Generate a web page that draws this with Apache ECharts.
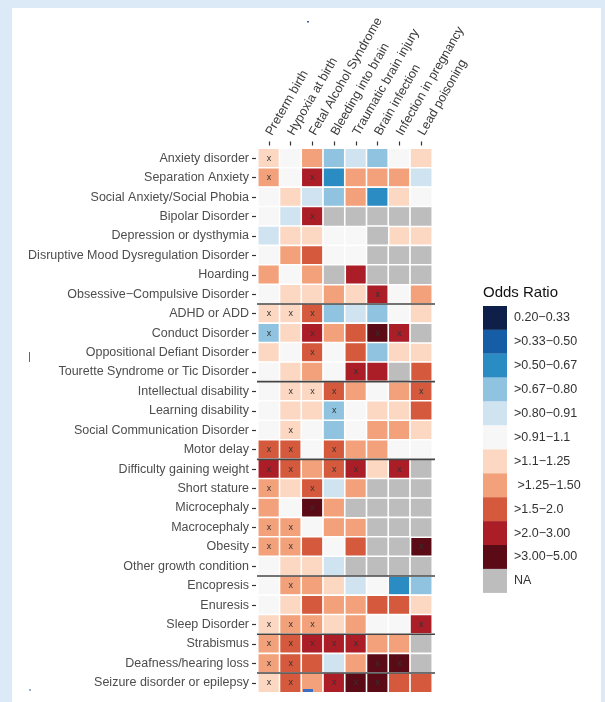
<!DOCTYPE html>
<html>
<head>
<meta charset="utf-8">
<script src="https://cdn.jsdelivr.net/npm/echarts@6/dist/echarts.min.js"></script>
<style>
html,body{margin:0;padding:0;background:#dce9f6;width:605px;height:702px;overflow:hidden;}
#panel{position:absolute;left:12px;top:8px;width:589px;height:694px;background:#fff;}
#chart{position:absolute;left:0;top:0;width:605px;height:702px;}
</style>
</head>
<body>
<div id="panel"></div>
<div id="chart"></div>
<script>
// Exposures (columns)
const exposures = ['Preterm birth','Hypoxia at birth','Fetal Alcohol Syndrome','Bleeding into brain','Traumatic brain injury','Brain infection','Infection in pregnancy','Lead poisoning'];
// Conditions (rows, top to bottom)
const conditions = ['Anxiety disorder','Separation Anxiety','Social Anxiety/Social Phobia','Bipolar Disorder','Depression or dysthymia','Disruptive Mood Dysregulation Disorder','Hoarding','Obsessive\u2212Compulsive Disorder','ADHD or ADD','Conduct Disorder','Oppositional Defiant Disorder','Tourette Syndrome or Tic Disorder','Intellectual disability','Learning disability','Social Communication Disorder','Motor delay','Difficulty gaining weight','Short stature','Microcephaly','Macrocephaly','Obesity','Other growth condition','Encopresis','Enuresis','Sleep Disorder','Strabismus','Deafness/hearing loss','Seizure disorder or epilepsy'];
// Estimated odds ratios (null = NA), one row per condition
const oddsRatios = [
  [1.2, 1.0, 1.4, 0.75, 0.85, 0.75, 1.0, 1.2],
  [1.4, 1.0, 2.5, 0.6, 1.4, 1.4, 1.4, 0.85],
  [1.0, 1.2, 0.85, 0.75, 1.4, 0.6, 1.2, 1.0],
  [1.0, 0.85, 2.5, null, null, null, null, null],
  [0.85, 1.2, 1.2, 1.0, 1.0, null, 1.2, 1.2],
  [1.0, 1.4, 1.8, 1.0, 1.0, null, null, null],
  [1.4, 1.0, 1.4, null, 2.5, null, null, null],
  [1.0, 1.2, 1.2, 1.4, 1.2, 2.5, 1.0, 1.4],
  [1.2, 1.2, 1.8, 0.75, 0.85, 0.75, 1.0, 1.2],
  [0.75, 1.2, 2.5, 1.4, 1.8, 4.0, 2.5, null],
  [1.2, 1.0, 1.8, 1.0, 1.8, 0.75, 1.2, 1.2],
  [1.0, 1.2, 1.4, 1.0, 2.5, 2.5, null, 1.8],
  [1.0, 1.2, 1.2, 1.8, 1.4, 1.0, 1.4, 1.8],
  [1.0, 1.2, 1.2, 0.75, 1.0, 1.2, 1.2, 1.8],
  [1.0, 1.2, 1.0, 0.75, 1.0, 1.4, 1.4, 1.2],
  [1.8, 1.8, 1.0, 1.8, 1.4, 1.4, 1.0, 1.0],
  [2.5, 1.8, 1.4, 1.8, 2.5, 1.2, 2.5, null],
  [1.4, 1.2, 1.8, 0.85, 1.4, null, null, null],
  [1.4, 1.0, 4.0, 1.4, null, null, null, null],
  [1.4, 1.4, 1.0, 1.4, 1.4, null, null, null],
  [1.4, 1.4, 1.8, 1.0, 1.8, null, null, 4.0],
  [1.0, 1.2, 1.2, 0.85, null, null, null, null],
  [1.0, 1.4, 1.4, 1.2, 0.85, 1.0, 0.6, 0.75],
  [1.0, 1.2, 1.8, 1.4, 1.4, 1.8, 1.8, 1.2],
  [1.2, 1.4, 1.4, 1.2, 1.4, 1.0, 1.0, 2.5],
  [1.4, 1.8, 2.5, 2.5, 2.5, 1.4, 1.4, null],
  [1.4, 1.8, 1.8, 0.85, 1.4, 4.0, 4.0, null],
  [1.2, 1.8, 1.4, 2.5, 4.0, 4.0, 1.8, 1.8]
];
// Significance marks (1 = "x")
const significant = [
  [1,0,0,0,0,0,0,0],
  [1,0,1,0,0,0,0,0],
  [0,0,0,0,0,0,0,0],
  [0,0,1,0,0,0,0,0],
  [0,0,0,0,0,0,0,0],
  [0,0,0,0,0,0,0,0],
  [0,0,0,0,0,0,0,0],
  [0,0,0,0,0,1,0,0],
  [1,1,1,0,0,0,0,0],
  [1,0,1,0,0,1,1,0],
  [0,0,1,0,0,0,0,0],
  [0,0,0,0,1,0,0,0],
  [0,1,1,1,0,0,0,1],
  [0,0,0,1,0,0,0,0],
  [0,1,0,0,0,0,0,0],
  [1,1,0,1,0,0,0,0],
  [1,1,0,1,1,0,1,0],
  [1,0,1,0,0,0,0,0],
  [0,0,1,0,0,0,0,0],
  [1,1,0,0,0,0,0,0],
  [1,1,0,0,0,0,0,1],
  [0,0,0,0,0,0,0,0],
  [0,1,0,0,0,0,0,0],
  [0,0,0,0,0,0,0,0],
  [1,1,1,0,0,0,0,1],
  [1,1,1,1,1,0,0,0],
  [1,1,0,0,0,1,1,0],
  [1,1,0,1,1,1,0,0]
];
// Row indices where a group separator line is drawn (above that row)
const groupBreaks = [8, 12, 16, 22, 25, 27];
// Legend bins
const binLabels = ['0.20\u22120.33','>0.33\u22120.50','>0.50\u22120.67','>0.67\u22120.80','>0.80\u22120.91','>0.91\u22121.1','>1.1\u22121.25',' >1.25\u22121.50','>1.5\u22122.0','>2.0\u22123.00','>3.00\u22125.00'];
const binEdges = [0.2, 0.33, 0.5, 0.67, 0.8, 0.91, 1.1, 1.25, 1.5, 2.0, 3.0, 5.0];
const binColors = ['#0e1f4a','#155ea6','#2b8bc3','#8fc3df','#cfe3f0','#f7f7f7','#fcd8c3','#f3a17a','#d5593c','#ab1e27','#5a0b15'];
const naColor = '#bdbdbd';

const FONT = '"Liberation Sans", Arial, sans-serif';
const cellData = [], naData = [];
oddsRatios.forEach((row, r) => row.forEach((v, c) => {
  if (v === null) naData.push([c, r, 0]);
  else cellData.push([c, r, v, significant[r][c]]);
}));
const pieces = binLabels.map((lab, i) => {
  const p = { lte: binEdges[i + 1], label: lab, color: binColors[i] };
  if (i === 0) p.gte = binEdges[i]; else p.gt = binEdges[i];
  return p;
});

const chart = echarts.init(document.getElementById('chart'), null, { renderer: 'canvas' });
chart.setOption({
  backgroundColor: 'transparent',
  animation: false,
  textStyle: { fontFamily: FONT },
  title: {
    text: 'Odds Ratio', left: 483, top: 285, padding: 0,
    textStyle: { fontFamily: FONT, fontSize: 15, fontWeight: 'normal', color: '#111' }
  },
  grid: { left: 258, top: 148.5, width: 174, height: 544, containLabel: false },
  xAxis: {
    type: 'category', data: exposures, position: 'top', offset: 3,
    axisLine: { show: false }, splitLine: { show: false },
    axisTick: { show: true, length: 4, alignWithLabel: true, lineStyle: { color: '#333', width: 1.2 } },
    axisLabel: { interval: 0, rotate: -60, align: 'left', verticalAlign: 'middle', margin: 11, fontSize: 12.6, color: '#3a3a3a', fontFamily: FONT }
  },
  yAxis: {
    type: 'category', data: conditions, inverse: true, offset: 2,
    axisLine: { show: false }, splitLine: { show: false },
    axisTick: { show: true, length: 4, alignWithLabel: true, lineStyle: { color: '#333', width: 1.2 } },
    axisLabel: { interval: 0, margin: 7, fontSize: 12.5, color: '#4d4d4d', fontFamily: FONT }
  },
  visualMap: {
    type: 'piecewise', seriesIndex: 0, dimension: 2,
    pieces: pieces, inverse: true, orient: 'vertical', align: 'left', padding: 0,
    left: 483, top: 306, itemWidth: 24, itemHeight: 23.9, itemGap: 0, itemSymbol: 'rect',
    textGap: 7, hoverLink: false, selectedMode: false,
    textStyle: { fontFamily: FONT, fontSize: 12.5, color: '#333' }
  },
  graphic: [
    { type: 'rect', left: 483, top: 306 + 11 * 23.9, shape: { width: 24, height: 24 }, style: { fill: naColor } },
    { type: 'text', left: 514, top: 306 + 11 * 23.9 + 5, style: { text: 'NA', font: '12.5px ' + FONT, fill: '#333' } },
    { type: 'line', shape: { x1: 29.5, y1: 352, x2: 29.5, y2: 362 }, style: { stroke: '#3b6bbf', lineWidth: 1 } },
    { type: 'rect', shape: { x: 307, y: 21, width: 2, height: 1.5 }, style: { fill: '#3b5fa8' } },
    { type: 'rect', shape: { x: 29.5, y: 689, width: 1, height: 2 }, style: { fill: '#3b5fa8' } },
    { type: 'rect', z: 100, shape: { x: 303, y: 689, width: 10, height: 3 }, style: { fill: '#3a6fc4' } }
  ],
  series: [
    {
      type: 'heatmap', data: cellData,
      itemStyle: { borderColor: '#fff', borderWidth: 1.6 },
      label: {
        show: true, fontSize: 9, color: '#333', fontFamily: FONT,
        formatter: p => (p.data[3] ? 'x' : '')
      },
      emphasis: { disabled: true }
    },
    {
      type: 'heatmap', data: naData,
      itemStyle: { color: naColor, borderColor: '#fff', borderWidth: 1.6 },
      label: { show: false },
      emphasis: { disabled: true }
    },
    {
      type: 'custom', data: groupBreaks.map(b => [0, b]), silent: true, z: 10,
      renderItem: (params, api) => {
        const cs = params.coordSys;
        const c = api.coord([0, api.value(1)]);
        const h = api.size([0, 1])[1];
        const y = c[1] - h / 2;
        return { type: 'line', shape: { x1: cs.x - 1, y1: y, x2: cs.x + cs.width + 3, y2: y },
                 style: { stroke: '#444', lineWidth: 1.6 } };
      }
    }
  ]
});
</script>
</body>
</html>
